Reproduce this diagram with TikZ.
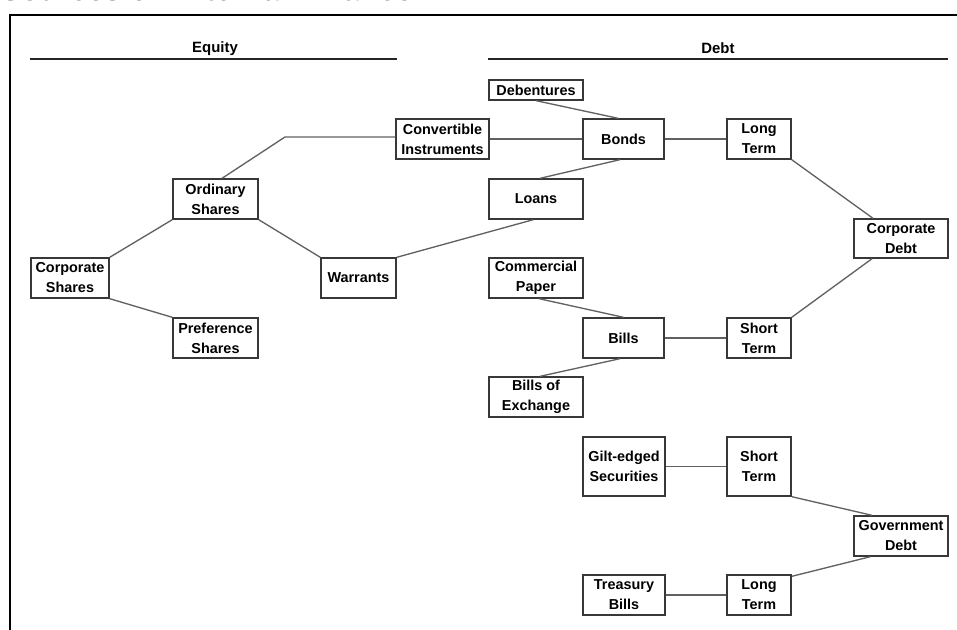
\documentclass[tikz,border=0pt]{standalone}
\usepackage{fontspec}
\setmainfont{Liberation Sans}
\begin{document}
\begin{tikzpicture}[x=0.75pt,y=-0.75pt,
  box/.style={draw=black!78, line width=1pt, fill=white, text=black,
    font=\bfseries\fontsize{10.8}{15}\selectfont, align=center, inner sep=0pt},
  conn/.style={draw=black!62, line width=1pt},
  rule/.style={draw=black!85, line width=1.7pt},
  frame/.style={draw=black, line width=2pt},
  head/.style={font=\bfseries\fontsize{11.2}{13}\selectfont, inner sep=0pt}]
\newcommand\bx[6]{\node[box, minimum width={(#4-#2)*0.75pt}, minimum height={(#5-#3)*0.75pt}]
  (#1) at ({(#2+#4)/2},{(#3+#5)/2}) {#6};}
\useasboundingbox (0,0) rectangle (957,630);
\clip (0,0) rectangle (957,630);
% cut-off title
\node[anchor=base west, inner sep=0pt, font=\bfseries\fontsize{23}{25}\selectfont] (title) at (0,0.5) {Sources of External Finance};
% frame
\draw[frame] (10,640) -- (10,15) -- (970,15);
% headers
\node[head] (eq) at (215,48.5) {Equity};
\node[head] (db) at (718,48.5) {Debt};
\coordinate (eqa) at (30,59); \coordinate (eqb) at (397,59);
\coordinate (dba) at (488,59); \coordinate (dbb) at (948,59);
\draw[rule] (eqa) -- (eqb);
\draw[rule] (dba) -- (dbb);
% boxes
\bx{cs}{31}{258}{109}{298}{Corporate\\Shares}
\bx{os}{173}{179}{258}{219}{Ordinary\\Shares}
\bx{ps}{173}{318}{258}{358}{Preference\\Shares}
\bx{war}{321}{258}{396}{298}{Warrants}
\bx{conv}{396}{119}{489}{159}{Convertible\\Instruments}
\bx{bonds}{583}{119}{664}{159}{Bonds}
\bx{deb}{489}{80}{583}{100}{Debentures}
\bx{loans}{489}{179}{583}{219}{Loans}
\bx{lta}{727}{119}{791}{159}{Long\\Term}
\bx{cd}{854}{219}{948}{258}{Corporate\\Debt}
\bx{cp}{489}{258}{583}{298}{Commercial\\Paper}
\bx{bills}{583}{318}{664}{358}{Bills}
\bx{sta}{727}{318}{791}{358}{Short\\Term}
\bx{boe}{489}{377}{583}{417}{Bills of\\Exchange}
\bx{gilt}{583}{437}{665}{496}{Gilt-edged\\Securities}
\bx{stb}{727}{437}{791}{496}{Short\\Term}
\bx{gd}{854}{516}{948}{556}{Government\\Debt}
\bx{tb}{583}{575}{665}{615}{Treasury\\Bills}
\bx{ltb}{727}{575}{791}{615}{Long\\Term}
% connectors
\coordinate (bend) at (285,137);
\draw[conn] (cs.north east) -- (os.south west);
\draw[conn] (cs.south east) -- (ps.north west);
\draw[conn] (os.south east) -- (war.north west);
\draw[conn] ([xshift=4.9pt]os.north) -- (bend) -- (bend -| conv.west);
\draw[conn] (war.north east) -- ([xshift=-2pt]loans.south);
\draw[conn] (conv.east) -- (bonds.west);
\draw[conn] (deb.south) -- ([xshift=-4pt]bonds.north);
\draw[conn] ([xshift=3pt]loans.north) -- ([xshift=-2.6pt]bonds.south);
\draw[conn] (bonds.east) -- (lta.west);
\draw[conn] (lta.south east) -- ([xshift=-21pt]cd.north);
\draw[conn] ([xshift=-21.7pt]cd.south) -- (sta.north east);
\draw[conn] ([xshift=2.2pt]cp.south) -- (bills.north);
\draw[conn] (bills.east) -- (sta.west);
\draw[conn] ([xshift=-2.6pt]bills.south) -- ([xshift=3pt]boe.north);
\draw[conn] (gilt.east) -- (stb.west);
\draw[conn] (stb.south east) -- ([xshift=-21.7pt]gd.north);
\draw[conn] ([xshift=-23pt]gd.south) -- ([yshift=-1.5pt]ltb.north east);
\draw[conn] (tb.east) -- (ltb.west);
\end{tikzpicture}
\end{document}
